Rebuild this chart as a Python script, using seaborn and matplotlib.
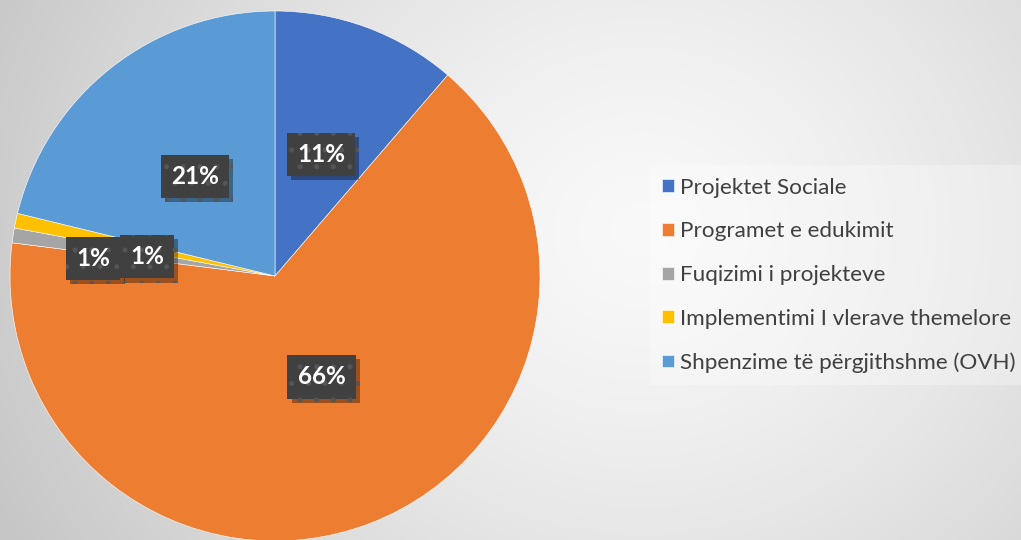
import numpy as np
import seaborn as sns
import matplotlib.pyplot as plt
from matplotlib import patheffects as pe

# data
categories = ['Projektet Sociale', 'Programet e edukimit', 'Fuqizimi i projekteve',
              'Implementimi I vlerave themelore', 'Shpenzime të përgjithshme (OVH)']
values = [11.3, 65.7, 0.9, 0.9, 21.2]
labels = ['11%', '66%', '1%', '1%', '21%']
colors = ['#4472C4', '#ED7D31', '#A5A5A5', '#FFC000', '#5B9BD5']

# where the data labels sit (radius fraction, angle shift in degrees)
label_r = [0.5, 0.41, 0.69, 0.49, 0.49]
label_shift = [0, 4.3, 2.5, 2.3, 0]

sns.set_style('white')
plt.rcParams['font.family'] = ['Lato', 'DejaVu Sans']
plt.rcParams['hatch.linewidth'] = 1.2

fig = plt.figure(figsize=(10.21, 5.40), dpi=100)

# radial gradient background
bg = fig.add_axes([0, 0, 1, 1], zorder=-10)
yy, xx = np.mgrid[0:540, 0:1021]
d = np.hypot((xx - 640) / 1.0, (yy - 230) / 0.9)
shade = np.clip(0.975 - (d / 720) ** 1.4 * 0.2, 0.78, 1)
bg.imshow(np.dstack([shade] * 3), aspect='auto', extent=[0, 1, 0, 1])
bg.set_axis_off()

ax = fig.add_axes([10 / 1021, -1 / 540, 530 / 1021, 530 / 540])
wedges, _ = ax.pie(values, colors=colors, startangle=90, counterclock=False,
                   radius=1, wedgeprops=dict(linewidth=0.4, edgecolor='white'))
ax.set_xlim(-1, 1)
ax.set_ylim(-1, 1)
ax.set_aspect('equal')
ax.set_axis_off()

for w, lab, r, sh in zip(wedges, labels, label_r, label_shift):
    ang = np.deg2rad((w.theta1 + w.theta2) / 2 + sh)
    t = ax.text(r * np.cos(ang), r * np.sin(ang) - 0.01, lab, ha='center', va='center',
                color='white', fontsize=17.5, fontweight='bold',
                bbox=dict(boxstyle='square,pad=0.42', facecolor='#404040',
                          edgecolor='#555555', linewidth=0, hatch='.'))
    t.get_bbox_patch().set_path_effects([
        pe.SimplePatchShadow(offset=(3, -3), shadow_rgbFace='black', alpha=0.35),
        pe.Normal()])

leg = fig.legend(wedges, categories, loc='center left',
                 bbox_to_anchor=(650 / 1021, 0.49), frameon=True,
                 fontsize=16.2, labelcolor='#404040', handlelength=0.5,
                 handleheight=0.5, handletextpad=0.3, labelspacing=1.05,
                 borderpad=0.55, borderaxespad=0)
leg.get_frame().set_facecolor('white')
leg.get_frame().set_alpha(0.3)
leg.get_frame().set_edgecolor('none')
leg.get_frame().set_boxstyle('square', pad=0)

fig.savefig('out.png', dpi=100)
